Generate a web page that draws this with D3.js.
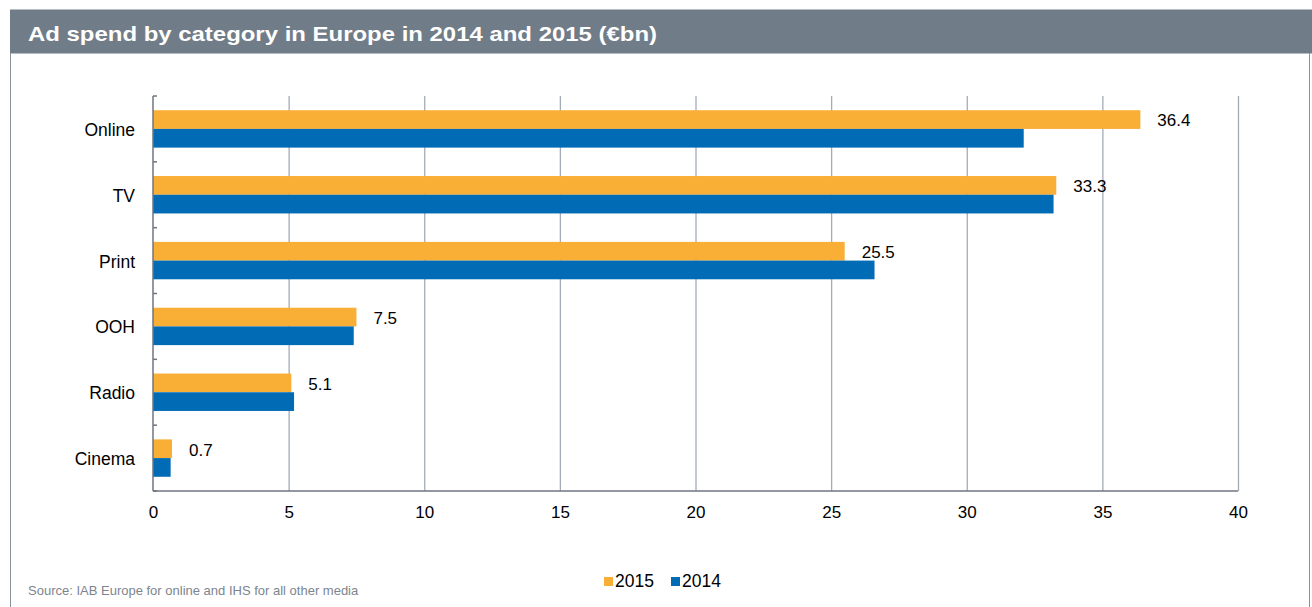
<!DOCTYPE html>
<meta charset="utf-8">
<style>
body { margin: 0; background: #fff; font-family: "Liberation Sans", Arial, sans-serif; }
.grid line { stroke: #a3abb8; stroke-width: 1.3; }
.grid path { display: none; }
.cat text { font-size: 17.5px; fill: #000; }
.xaxis text { font-size: 17px; fill: #000; }
</style>
<body>
<script src="https://cdn.jsdelivr.net/npm/d3@7"></script>
<script>

var categories = ["Online", "TV", "Print", "OOH", "Radio", "Cinema"];
var series = ["2015", "2014"];
var values2015 = [36.4, 33.3, 25.5, 7.5, 5.1, 0.7];
var values2014 = [32.1, 33.2, 26.6, 7.4, 5.2, 0.65];
var xTicks = [0, 5, 10, 15, 20, 25, 30, 35, 40];

var W = 1312, H = 607;
var colors = {"2015": "#f9ae35", "2014": "#016bb6"};

var svg = d3.select("body").append("svg")
    .attr("width", W)
    .attr("height", H);

// header band
svg.append("rect")
    .attr("x", 10).attr("y", 9.5)
    .attr("width", W - 10).attr("height", 44)
    .attr("fill", "#717c89");
svg.append("text")
    .attr("x", 28).attr("y", 40.5)
    .attr("fill", "#fff")
    .attr("textLength", 629)
    .attr("lengthAdjust", "spacingAndGlyphs")
    .style("font-size", "21px")
    .style("font-weight", "bold")
    .text("Ad spend by category in Europe in 2014 and 2015 (€bn)");

// frame sides
svg.append("line").attr("x1", 10.5).attr("x2", 10.5).attr("y1", 53).attr("y2", H)
    .attr("stroke", "#8a929c");
svg.append("line").attr("x1", 1309.5).attr("x2", 1309.5).attr("y1", 53).attr("y2", H)
    .attr("stroke", "#8a929c");

var plotLeft = 153, plotRight = 1238, plotTop = 96, plotBottom = 491;

var x = d3.scaleLinear().domain([0, 40]).range([plotLeft, plotRight]);
var y = d3.scaleBand().domain(categories).range([plotTop, plotBottom]);
var half = 18.7;

// gridlines
svg.append("g")
    .attr("class", "grid")
    .attr("transform", "translate(0," + plotTop + ")")
    .call(d3.axisBottom(x).tickValues(xTicks.slice(1)).tickSize(plotBottom - plotTop).tickFormat(""));

// bars
var rows = categories.map(function(c, i) {
  return {cat: c, v2015: values2015[i], v2014: values2014[i]};
});

var g = svg.append("g");
g.selectAll(".b15").data(rows).enter().append("rect")
    .attr("x", x(0))
    .attr("y", function(d) { return y(d.cat) + y.bandwidth() / 2 - half; })
    .attr("width", function(d) { return x(d.v2015) - x(0); })
    .attr("height", half)
    .attr("fill", colors["2015"]);
g.selectAll(".b14").data(rows).enter().append("rect")
    .attr("x", x(0))
    .attr("y", function(d) { return y(d.cat) + y.bandwidth() / 2; })
    .attr("width", function(d) { return x(d.v2014) - x(0); })
    .attr("height", half)
    .attr("fill", colors["2014"]);

// value labels for 2015
g.selectAll(".lbl").data(rows).enter().append("text")
    .attr("x", function(d) { return x(d.v2015) + 17; })
    .attr("y", function(d) { return y(d.cat) + y.bandwidth() / 2 - 2.5; })
    .style("font-size", "17px")
    .text(function(d) { return d.v2015.toFixed(1); });

// left axis
var ya = svg.append("g")
    .attr("class", "cat")
    .attr("transform", "translate(" + plotLeft + ",0)")
    .call(d3.axisLeft(y).tickSize(0).tickPadding(18));
ya.select(".domain").remove();
ya.selectAll("text").attr("dy", "0.4em");
svg.append("line")
    .attr("x1", plotLeft).attr("x2", plotLeft).attr("y1", plotTop).attr("y2", plotBottom)
    .attr("stroke", "#6e7580").attr("stroke-width", 1.5);
svg.selectAll(".ytick").data(d3.range(categories.length + 1)).enter().append("line")
    .attr("x1", plotLeft).attr("x2", plotLeft + 4)
    .attr("y1", function(i) { return plotTop + i * y.step(); })
    .attr("y2", function(i) { return plotTop + i * y.step(); })
    .attr("stroke", "#6e7580").attr("stroke-width", 1.5);

// bottom axis
var xa = svg.append("g")
    .attr("class", "xaxis")
    .attr("transform", "translate(0," + plotBottom + ")")
    .call(d3.axisBottom(x).tickValues(xTicks).tickSize(0).tickPadding(15));
xa.select(".domain").remove();
svg.append("line")
    .attr("x1", plotLeft).attr("x2", plotRight).attr("y1", plotBottom).attr("y2", plotBottom)
    .attr("stroke", "#6e7580").attr("stroke-width", 1.5);

// legend
var legend = svg.selectAll(".legend").data(series).enter().append("g")
    .attr("transform", function(d, i) { return "translate(" + (604 + i * 67) + ",577)"; });
legend.append("rect")
    .attr("width", 9).attr("height", 9)
    .attr("fill", function(d) { return colors[d]; });
legend.append("text")
    .attr("x", 11).attr("y", 10)
    .style("font-size", "17.5px")
    .text(function(d) { return d; });

// source
svg.append("text")
    .attr("x", 28).attr("y", 595)
    .attr("fill", "#7c858f")
    .style("font-size", "13px")
    .text("Source: IAB Europe for online and IHS for all other media");

</script>
